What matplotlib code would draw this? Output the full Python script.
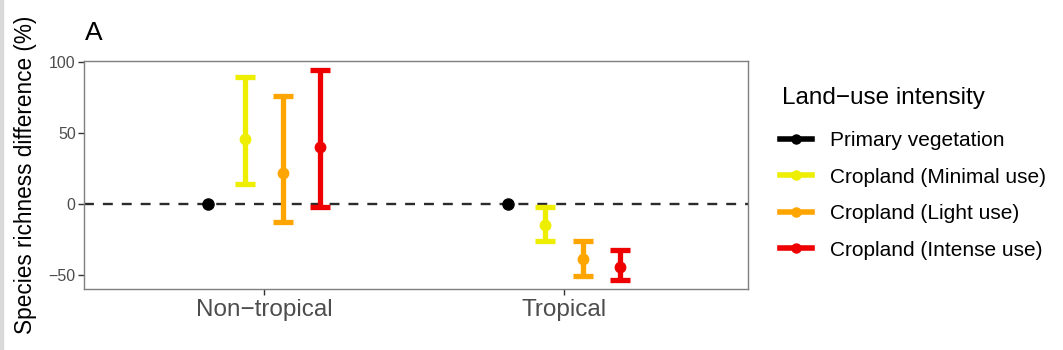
import matplotlib
matplotlib.use("Agg")
import matplotlib.pyplot as plt
from matplotlib.lines import Line2D
from matplotlib.patches import Rectangle

plt.rcParams['font.family'] = ['Liberation Sans', 'DejaVu Sans']

# data
regions = ['Non\u2212tropical', 'Tropical']
land_use = ['Primary vegetation', 'Cropland (Minimal use)',
            'Cropland (Light use)', 'Cropland (Intense use)']
colors = ['#000000', '#EEEE00', '#FFA500', '#EE0000']

mean_vals = {
    'Primary vegetation': [0, 0],
    'Cropland (Minimal use)': [45.6, -14.8],
    'Cropland (Light use)': [22.0, -39.0],
    'Cropland (Intense use)': [39.7, -44.2],
}
lower_vals = {
    'Primary vegetation': [None, None],
    'Cropland (Minimal use)': [13.9, -25.8],
    'Cropland (Light use)': [-12.5, -50.7],
    'Cropland (Intense use)': [-1.9, -53.5],
}
upper_vals = {
    'Primary vegetation': [None, None],
    'Cropland (Minimal use)': [89.6, -1.9],
    'Cropland (Light use)': [75.6, -25.8],
    'Cropland (Intense use)': [94.4, -32.4],
}

fig = plt.figure(figsize=(10.63, 3.5), dpi=100)
ax = fig.add_axes([0.079, 0.174, 0.6247, 0.652])

ax.axhline(0, color='#2B2B2B', lw=1.7, ls=(0, (4.2, 3.8)), zorder=1)

offsets = [-0.1875, -0.0625, 0.0625, 0.1875]
for lu, col, off in zip(land_use, colors, offsets):
    for i, reg in enumerate(regions):
        x = i + 1 + off
        m = mean_vals[lu][i]
        lo = lower_vals[lu][i]
        hi = upper_vals[lu][i]
        if lo is not None:
            ax.errorbar([x], [m], yerr=[[m - lo], [hi - m]], fmt='o', color=col,
                        ms=7.5, elinewidth=3.8, capsize=7.5, capthick=3.8, zorder=3)
        else:
            ax.plot([x], [m], 'o', color=col, ms=8, zorder=3)

ax.set_xlim(0.4, 2.613)
ax.set_ylim(-60, 100.6)
ax.set_xticks([1, 2])
ax.set_xticklabels(regions, fontsize=17.5, color='#4D4D4D')
ax.set_yticks([-50, 0, 50, 100])
ax.set_yticklabels(['\u221250', '0', '50', '100'], fontsize=11.5, color='#4D4D4D')
ax.tick_params(axis='both', color='#333333', length=4, width=1, pad=2)
ax.tick_params(axis='x', pad=3)
for s in ax.spines.values():
    s.set_color('#7F7F7F')
    s.set_linewidth(1)

ax.set_ylabel('Species richness difference (%)', fontsize=16.3, color='#000000')
ax.yaxis.set_label_coords(-0.071, 0.5)
fig.text(0.080, 0.885, 'A', fontsize=19, color='#000000')

# legend: title drawn as its own text so it can sit where the reference has it
fig.text(782 / 1063, 1 - 98 / 350, 'Land\u2212use intensity', fontsize=17.5,
         color='#000000', ha='left', va='center')
handles = [Line2D([0], [0], color=c, lw=4, marker='o', ms=6.5) for c in colors]
leg = fig.legend(handles, land_use, loc='upper left', bbox_to_anchor=(780 / 1063, 1 - 131 / 350),
                 frameon=False, fontsize=15, borderpad=0, borderaxespad=0,
                 handlelength=1.55, handletextpad=0.85, labelspacing=0.84)

# thin grey strip at the left edge of the screenshot
fig.patches.append(Rectangle((0, 0), 0.003, 1, transform=fig.transFigure,
                             color='#D9D9D9', zorder=0))

fig.savefig('out.png', dpi=100)
